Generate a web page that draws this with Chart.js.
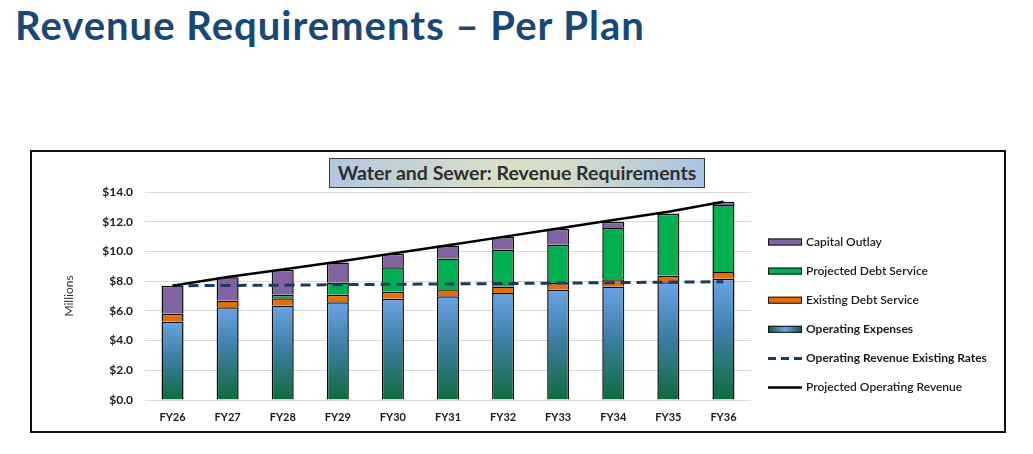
<!DOCTYPE html>
<html>
<head>
<meta charset="utf-8">
<script src="https://cdn.jsdelivr.net/npm/chart.js@4.4.1/dist/chart.umd.min.js"></script>
<style>
  body { margin: 0; background: #fff; }
  #page { position: relative; width: 1033px; height: 454px; overflow: hidden; }
  h1 {
    position: absolute; left: 15px; top: 1px; margin: 0;
    font-family: Lato, sans-serif; font-weight: 700; font-size: 40px;
    color: #1a4876; white-space: nowrap; letter-spacing: 1px;
  }
  #frame {
    position: absolute; left: 30px; top: 150px; width: 972px; height: 279px;
    border: 2px solid #111;
  }
  #chartTitle {
    position: absolute; left: 329px; top: 158px; width: 374px; height: 28px;
    border: 1.5px solid #3a3a3a;
    background: linear-gradient(90deg, #b3c6e2 0%, #d8e0c6 45%, #d6dfc8 60%, #a9c2e3 100%);
    font-family: Lato, sans-serif; font-weight: 700; font-size: 19.5px; color: #2e2e2e;
    text-align: center; line-height: 28px; white-space: nowrap;
  }
  canvas { position: absolute; left: 0; top: 0; }
</style>
</head>
<body>
<div id="page">
  <h1>Revenue Requirements – Per Plan</h1>
  <div id="frame"></div>
  <canvas id="revChart" width="1033" height="454"></canvas>
  <div id="chartTitle">Water and Sewer: Revenue Requirements</div>
</div>
<script>
const categories = ['FY26', 'FY27', 'FY28', 'FY29', 'FY30', 'FY31', 'FY32', 'FY33', 'FY34', 'FY35', 'FY36'];
const operatingExpenses = [5.28, 6.25, 6.36, 6.58, 6.81, 6.99, 7.21, 7.42, 7.64, 7.93, 8.16];
const existingDebtService = [0.52, 0.45, 0.49, 0.50, 0.47, 0.47, 0.43, 0.45, 0.49, 0.45, 0.45];
const projectedDebtService = [0, 0, 0.23, 0.83, 1.66, 2.07, 2.47, 2.58, 3.44, 4.16, 4.51];
const capitalOutlay = [1.89, 1.57, 1.68, 1.35, 0.90, 0.87, 0.86, 1.08, 0.43, 0.03, 0.23];
const revenueExistingRates = [7.69, 7.71, 7.73, 7.76, 7.79, 7.81, 7.84, 7.87, 7.90, 7.93, 7.96];
const projectedRevenue = [7.69, 8.28, 8.78, 9.30, 9.86, 10.42, 10.98, 11.54, 12.12, 12.67, 13.35];

const purple = '#8064a2';
const green = '#00b050';
const orange = '#e46c0a';
const navy = '#1f3a60';

// vertical gradient per bar: light blue at top, dark green at the bottom
function opexFill(ctx) {
    const chart = ctx.chart;
    if (!chart.chartArea || ctx.raw == null) return '#4a8ac9';
    const y = chart.scales.y;
    const top = y.getPixelForValue(ctx.raw);
    const bottom = y.getPixelForValue(0);
    const g = chart.ctx.createLinearGradient(0, top, 0, bottom);
    g.addColorStop(0, '#6aa3e6');
    g.addColorStop(0.45, '#3d7fa6');
    g.addColorStop(1, '#0f6b3c');
    return g;
}

const legendItems = [
    { label: 'Capital Outlay', kind: 'box', color: purple, bold: false },
    { label: 'Projected Debt Service', kind: 'box', color: green, bold: false },
    { label: 'Existing Debt Service', kind: 'box', color: orange, bold: false },
    { label: 'Operating Expenses', kind: 'grad', bold: true },
    { label: 'Operating Revenue Existing Rates', kind: 'dash', color: navy, bold: true },
    { label: 'Projected Operating Revenue', kind: 'line', color: '#000', bold: false }
];

const sideLegend = {
    id: 'sideLegend',
    afterDraw(chart) {
        const c = chart.ctx;
        const x0 = 768, y0 = 242, step = 29.1, w = 34, h = 7;
        c.save();
        legendItems.forEach((it, i) => {
            const y = y0 + i * step;
            if (it.kind === 'box' || it.kind === 'grad') {
                if (it.kind === 'grad') {
                    const g = c.createLinearGradient(x0, 0, x0 + w, 0);
                    g.addColorStop(0, '#0f5a4a');
                    g.addColorStop(0.5, '#6aa3e6');
                    g.addColorStop(1, '#0f5a4a');
                    c.fillStyle = g;
                } else {
                    c.fillStyle = it.color;
                }
                c.fillRect(x0, y - h / 2, w, h);
                c.strokeStyle = '#111';
                c.lineWidth = 1;
                c.strokeRect(x0 + 0.5, y - h / 2 + 0.5, w - 1, h - 1);
            } else {
                c.strokeStyle = it.color;
                c.lineWidth = it.kind === 'dash' ? 3 : 2.5;
                c.setLineDash(it.kind === 'dash' ? [8, 5] : []);
                c.beginPath();
                c.moveTo(x0, y);
                c.lineTo(x0 + w, y);
                c.stroke();
                c.setLineDash([]);
            }
            c.fillStyle = '#1a1a1a';
            c.font = (it.bold ? '700' : '600') + ' 12px Lato, sans-serif';
            c.textBaseline = 'middle';
            c.fillText(it.label, x0 + w + 4, y);
        });
        c.restore();
    }
};

new Chart(document.getElementById('revChart'), {
    data: {
        labels: categories,
        datasets: [
            {
                type: 'line', label: 'Projected Operating Revenue', data: projectedRevenue,
                borderColor: '#000', borderWidth: 2.5, pointRadius: 0, tension: 0,
                stack: 'rev1', order: 0
            },
            {
                type: 'line', label: 'Operating Revenue Existing Rates', data: revenueExistingRates,
                borderColor: navy, borderWidth: 3, borderDash: [10, 6], pointRadius: 0, tension: 0,
                stack: 'rev2', order: 0
            },
            {
                type: 'bar', label: 'Operating Expenses', data: operatingExpenses,
                backgroundColor: opexFill, borderColor: '#0a0a0a', borderWidth: 1.5, stack: 'req', order: 1
            },
            {
                type: 'bar', label: 'Existing Debt Service', data: existingDebtService,
                backgroundColor: orange, borderColor: '#0a0a0a', borderWidth: 1.5, stack: 'req', order: 1
            },
            {
                type: 'bar', label: 'Projected Debt Service', data: projectedDebtService,
                backgroundColor: green, borderColor: '#0a0a0a', borderWidth: 1.5, stack: 'req', order: 1
            },
            {
                type: 'bar', label: 'Capital Outlay', data: capitalOutlay,
                backgroundColor: purple, borderColor: '#0a0a0a', borderWidth: 1.5, stack: 'req', order: 1
            }
        ]
    },
    options: {
        responsive: false,
        animation: false,
        layout: { padding: { left: 58, top: 192, right: 282, bottom: 24 } },
        datasets: { bar: { categoryPercentage: 1, barPercentage: 0.4 } },
        plugins: {
            legend: { display: false },
            tooltip: { enabled: false }
        },
        scales: {
            x: {
                stacked: true,
                grid: { display: false, drawTicks: false },
                border: { display: false },
                ticks: {
                    padding: 11,
                    color: '#1a1a1a',
                    font: { family: 'Lato, sans-serif', size: 11, weight: '700' }
                },
                afterFit: s => { s.height = 30; }
            },
            y: {
                stacked: true,
                min: 0,
                max: 14,
                ticks: {
                    stepSize: 2,
                    padding: 12,
                    color: '#1a1a1a',
                    font: { family: 'Lato, sans-serif', size: 12, weight: '700' },
                    callback: v => '$' + Number(v).toFixed(1)
                },
                grid: { color: '#d9d9d9', lineWidth: 1, drawTicks: false },
                border: { display: false },
                title: {
                    display: true,
                    text: 'Millions',
                    color: '#333',
                    padding: { top: 4, bottom: 0 },
                    font: { family: 'Lato, sans-serif', size: 12 }
                },
                afterFit: s => { s.width = 145 - 58; }
            }
        }
    },
    plugins: [sideLegend]
});
</script>
</body>
</html>
